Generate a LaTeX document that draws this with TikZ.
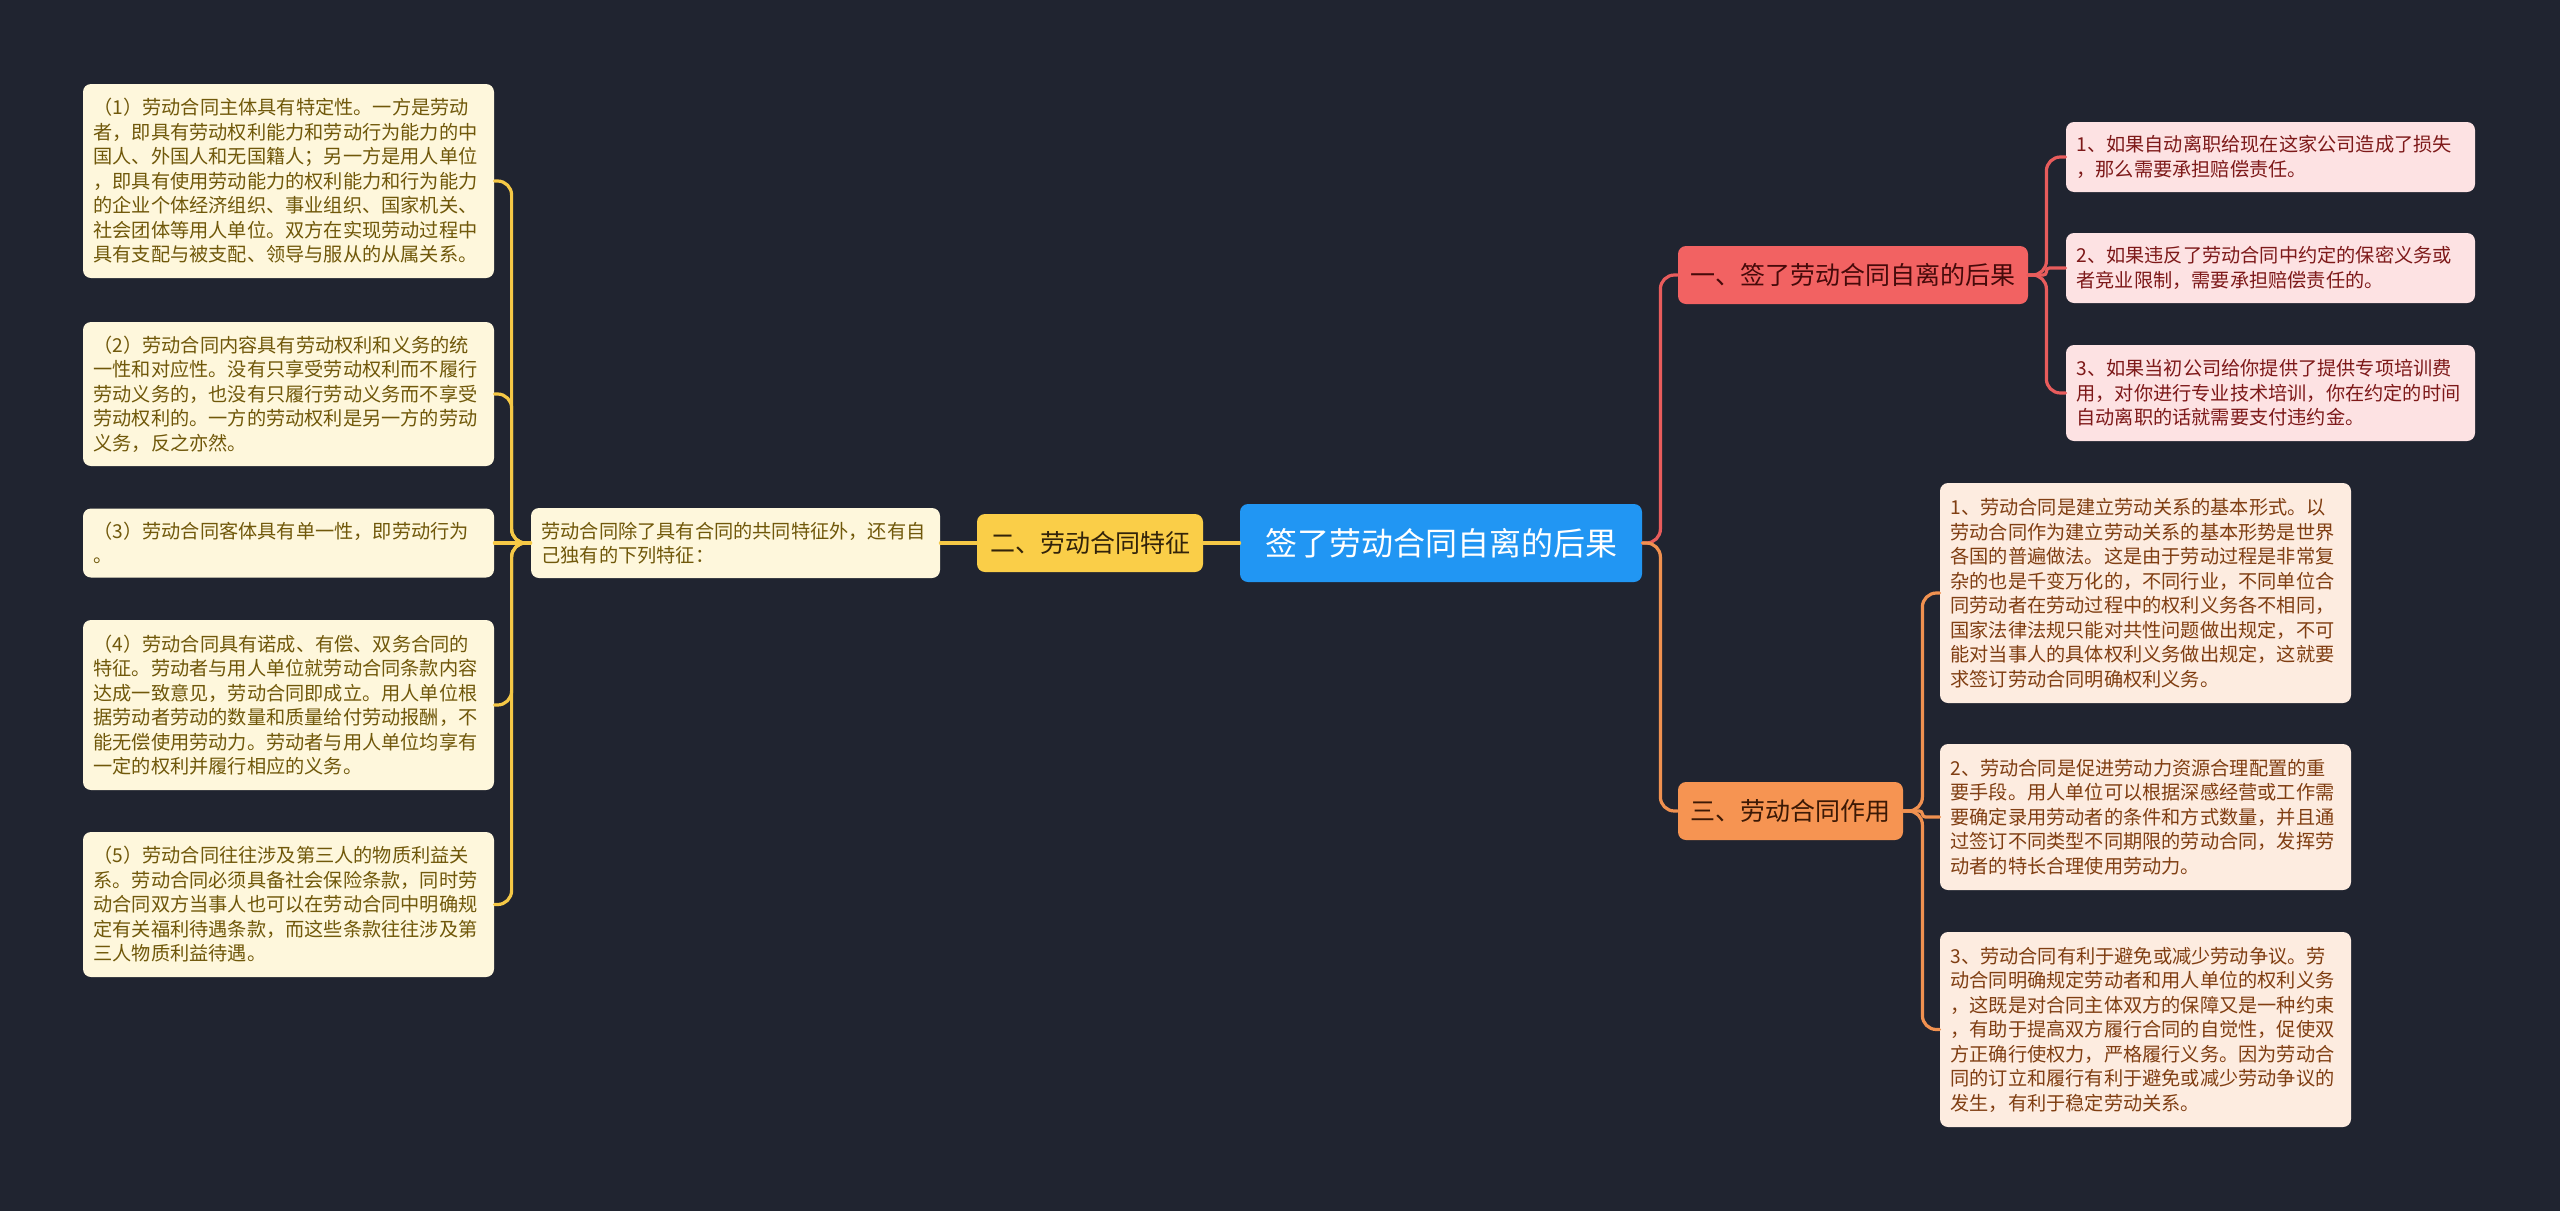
\documentclass[tikz,border=0pt]{standalone}
\usepackage{fontspec}
\setmainfont{Noto Sans CJK SC}
\usepackage{tikz}

\definecolor{bgnavy}{RGB}{32,36,48}
\definecolor{rootblue}{RGB}{33,150,243}
\definecolor{featyellow}{RGB}{250,206,72}
\definecolor{consred}{RGB}{242,98,98}
\definecolor{roleorange}{RGB}{246,148,82}
\definecolor{creamfill}{RGB}{254,247,220}
\definecolor{pinkfill}{RGB}{253,226,227}
\definecolor{peachfill}{RGB}{253,236,224}
\definecolor{olivetext}{RGB}{112,88,10}
\definecolor{maroontext}{RGB}{125,25,25}
\definecolor{browntext}{RGB}{128,62,18}
\definecolor{ylinecol}{RGB}{245,200,70}
\definecolor{rlinecol}{RGB}{232,92,92}
\definecolor{olinecol}{RGB}{240,145,80}

\begin{document}
\begin{tikzpicture}[x=0.5pt, y=-0.5pt,
  topic/.style={rounded corners=4pt, inner sep=0pt, align=center},
  leaf/.style={rounded corners=4pt, inner xsep=5.25pt, inner ysep=0pt, text width=195pt,
    align=left, font=\fontsize{9.6pt}{12.25pt}\selectfont},
  link/.style={line width=1.6pt, rounded corners=7pt, line cap=round},
  shortlink/.style={line width=1.6pt, rounded corners=1.5pt, line cap=round}
]

\useasboundingbox (0,0) rectangle (2560,1211);
\fill[bgnavy] (0,0) rectangle (2560,1211);

% centre and the three branches
\node[topic, fill=rootblue, text=white, minimum width=201pt, minimum height=39pt,
  font=\fontsize{16pt}{19pt}\selectfont] (root) at (1441,543) {签了劳动合同自离的后果};
\node[topic, fill=featyellow, text={rgb,255:red,50;green,35;blue,10}, minimum width=113pt, minimum height=29pt,
  font=\fontsize{12.5pt}{15pt}\selectfont] (feat) at (1090,543) {二、劳动合同特征};
\node[topic, fill=consred, text={rgb,255:red,70;green,10;blue,10}, minimum width=175pt, minimum height=29pt,
  font=\fontsize{12.5pt}{15pt}\selectfont] (cons) at (1853,275) {一、签了劳动合同自离的后果};
\node[topic, fill=roleorange, text={rgb,255:red,60;green,25;blue,5}, minimum width=112.5pt, minimum height=29pt,
  font=\fontsize{12.5pt}{15pt}\selectfont] (role) at (1790.5,811) {三、劳动合同作用};

% left side
\node[leaf, fill=creamfill, text=olivetext, text width=194pt, minimum height=35pt] (featnote) at (735.5,543)
  {劳动合同除了具有合同的共同特征外，还有自\\己独有的下列特征：};
\node[leaf, fill=creamfill, text=olivetext, minimum height=97pt] (f1) at (288.5,181)
  {（1）劳动合同主体具有特定性。一方是劳动\\
   者，即具有劳动权利能力和劳动行为能力的中\\
   国人、外国人和无国籍人；另一方是用人单位\\
   ，即具有使用劳动能力的权利能力和行为能力\\
   的企业个体经济组织、事业组织、国家机关、\\
   社会团体等用人单位。双方在实现劳动过程中\\
   具有支配与被支配、领导与服从的从属关系。};
\node[leaf, fill=creamfill, text=olivetext, minimum height=72pt] (f2) at (288.5,394)
  {（2）劳动合同内容具有劳动权利和义务的统\\
   一性和对应性。没有只享受劳动权利而不履行\\
   劳动义务的，也没有只履行劳动义务而不享受\\
   劳动权利的。一方的劳动权利是另一方的劳动\\
   义务，反之亦然。};
\node[leaf, fill=creamfill, text=olivetext, minimum height=34.5pt] (f3) at (288.5,543)
  {（3）劳动合同客体具有单一性，即劳动行为\\。};
\node[leaf, fill=creamfill, text=olivetext, minimum height=85pt] (f4) at (288.5,705)
  {（4）劳动合同具有诺成、有偿、双务合同的\\
   特征。劳动者与用人单位就劳动合同条款内容\\
   达成一致意见，劳动合同即成立。用人单位根\\
   据劳动者劳动的数量和质量给付劳动报酬，不\\
   能无偿使用劳动力。劳动者与用人单位均享有\\
   一定的权利并履行相应的义务。};
\node[leaf, fill=creamfill, text=olivetext, minimum height=72.5pt] (f5) at (288.5,904.5)
  {（5）劳动合同往往涉及第三人的物质利益关\\
   系。劳动合同必须具备社会保险条款，同时劳\\
   动合同双方当事人也可以在劳动合同中明确规\\
   定有关福利待遇条款，而这些条款往往涉及第\\
   三人物质利益待遇。};

% right side, top
\node[leaf, fill=pinkfill, text=maroontext, text width=194pt, minimum height=35pt] (c1) at (2270.5,157)
  {1、如果自动离职给现在这家公司造成了损失\\，那么需要承担赔偿责任。};
\node[leaf, fill=pinkfill, text=maroontext, text width=194pt, minimum height=35pt] (c2) at (2270.5,268)
  {2、如果违反了劳动合同中约定的保密义务或\\者竞业限制，需要承担赔偿责任的。};
\node[leaf, fill=pinkfill, text=maroontext, text width=194pt, minimum height=48pt] (c3) at (2270.5,393)
  {3、如果当初公司给你提供了提供专项培训费\\用，对你进行专业技术培训，你在约定的时间\\自动离职的话就需要支付违约金。};

% right side, bottom
\node[leaf, fill=peachfill, text=browntext, minimum height=110pt] (r1) at (2145.5,593)
  {1、劳动合同是建立劳动关系的基本形式。以\\
   劳动合同作为建立劳动关系的基本形势是世界\\
   各国的普遍做法。这是由于劳动过程是非常复\\
   杂的也是千变万化的，不同行业，不同单位合\\
   同劳动者在劳动过程中的权利义务各不相同，\\
   国家法律法规只能对共性问题做出规定，不可\\
   能对当事人的具体权利义务做出规定，这就要\\
   求签订劳动合同明确权利义务。};
\node[leaf, fill=peachfill, text=browntext, minimum height=73pt] (r2) at (2145.5,817)
  {2、劳动合同是促进劳动力资源合理配置的重\\
   要手段。用人单位可以根据深感经营或工作需\\
   要确定录用劳动者的条件和方式数量，并且通\\
   过签订不同类型不同期限的劳动合同，发挥劳\\
   动者的特长合理使用劳动力。};
\node[leaf, fill=peachfill, text=browntext, minimum height=97.5pt] (r3) at (2145.5,1029.5)
  {3、劳动合同有利于避免或减少劳动争议。劳\\
   动合同明确规定劳动者和用人单位的权利义务\\
   ，这既是对合同主体双方的保障又是一种约束\\
   ，有助于提高双方履行合同的自觉性，促使双\\
   方正确行使权力，严格履行义务。因为劳动合\\
   同的订立和履行有利于避免或减少劳动争议的\\
   发生，有利于稳定劳动关系。};

% connectors
\draw[link, ylinecol] (root.west) -- (feat.east);
\draw[link, ylinecol] (feat.west) -- (featnote.east);
\foreach \n in {f1,f2,f4,f5}
  \draw[link, ylinecol] (featnote.west) -- ++(-19,0) |- (\n.east);
\draw[link, ylinecol] (featnote.west) -- (f3.east);

\draw[link, rlinecol] (root.east) -- ++(18,0) |- (cons.west);
\draw[link, olinecol] (root.east) -- ++(18,0) |- (role.west);
\foreach \n in {c1,c3}
  \draw[link, rlinecol] (cons.east) -- ++(18,0) |- (\n.west);
\draw[shortlink, rlinecol] (cons.east) -- ++(18,0) |- (c2.west);
\foreach \n in {r1,r3}
  \draw[link, olinecol] (role.east) -- ++(19,0) |- (\n.west);
\draw[shortlink, olinecol] (role.east) -- ++(19,0) |- (r2.west);

\end{tikzpicture}
\end{document}
